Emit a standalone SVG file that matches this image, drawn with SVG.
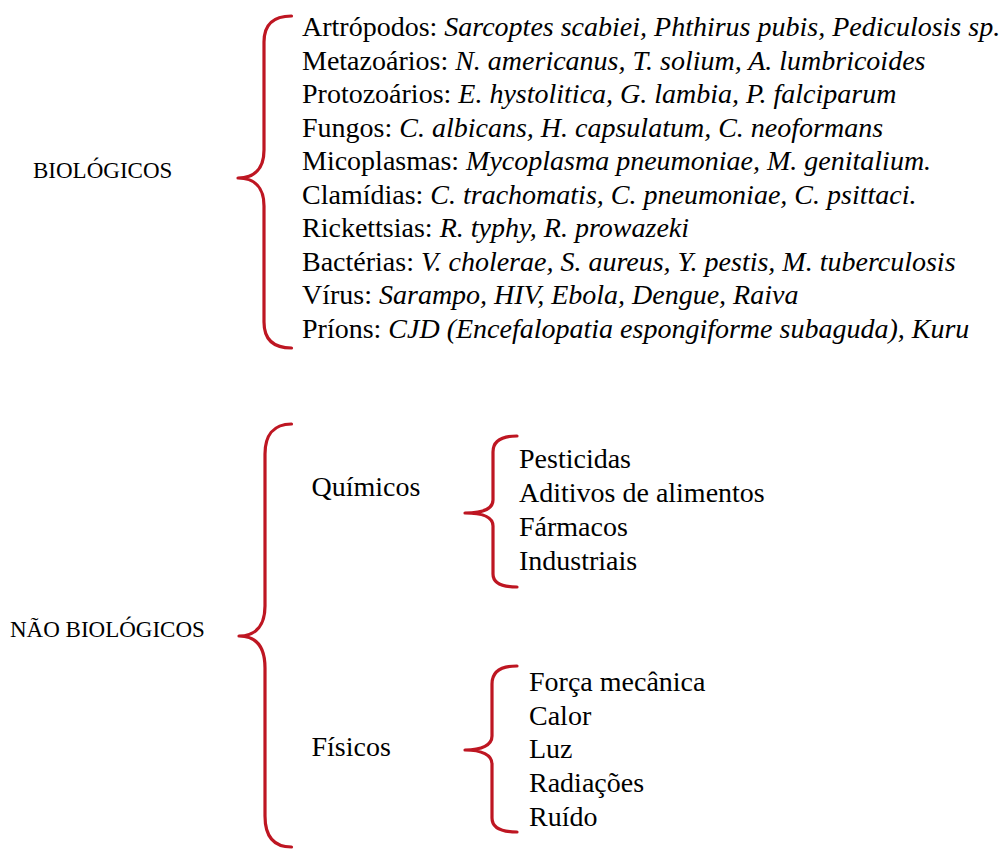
<svg xmlns="http://www.w3.org/2000/svg" width="1003" height="849" viewBox="0 0 1003 849" font-family="'Liberation Serif', serif">
  <style>
    .brace { fill: none; stroke: #be1622; stroke-width: 3.2; stroke-linecap: round; stroke-linejoin: round; }
    .cat { font-family: 'Liberation Serif', serif; font-size: 23px; fill: #000; }
    .item { font-family: 'Liberation Serif', serif; font-size: 28px; fill: #000; }
    .it { font-style: italic; }
  </style>
  <rect width="1003" height="849" fill="#fff"/>

  <!-- curly braces joining each group to its items -->
  <g id="connectors">
    <path class="brace" d="M291.5,16 C272,16 264,26 264,42 L264,150 C264,168 255,178 238,178 C255,178 264,188 264,206 L264,322 C264,338 272,348 291.5,348"/>
    <path class="brace" d="M291.5,424 C273,424 265,436 265,454 L265,606 C265,624 257,636 239,636 C257,636 265,648 265,668 L265,816 C265,836 273,847 291.5,847"/>
    <path class="brace" d="M517,436 C500,436 493,442 493,452 L493,500 C493,509 482,513 465,513 C482,513 493,517 493,526 L493,574 C493,582 500,587 517,587"/>
    <path class="brace" d="M517,666 C500,666 492,672 492,684 L492,736 C492,745 482,750 465,750 C482,750 492,755 492,764 L492,818 C492,827 500,832 517,832"/>
  </g>

  <g id="biologicos">
    <text class="cat" x="33" y="177.5">BIOLÓGICOS</text>
  </g>

  <g id="biologicos-itens">
    <text class="item" x="302" y="36">Artrópodos: <tspan class="it">Sarcoptes scabiei, Phthirus pubis, Pediculosis sp.</tspan></text>
    <text class="item" x="302" y="69.5">Metazoários: <tspan class="it">N. americanus, T. solium, A. lumbricoides</tspan></text>
    <text class="item" x="302" y="103">Protozoários: <tspan class="it">E. hystolitica, G. lambia, P. falciparum</tspan></text>
    <text class="item" x="302" y="136.5">Fungos: <tspan class="it">C. albicans, H. capsulatum, C. neoformans</tspan></text>
    <text class="item" x="302" y="170">Micoplasmas: <tspan class="it">Mycoplasma pneumoniae, M. genitalium.</tspan></text>
    <text class="item" x="302" y="203.5">Clamídias: <tspan class="it">C. trachomatis, C. pneumoniae, C. psittaci.</tspan></text>
    <text class="item" x="302" y="237">Rickettsias: <tspan class="it">R. typhy, R. prowazeki</tspan></text>
    <text class="item" x="302" y="270.5">Bactérias: <tspan class="it">V. cholerae, S. aureus, Y. pestis, M. tuberculosis</tspan></text>
    <text class="item" x="302" y="304">Vírus: <tspan class="it">Sarampo, HIV, Ebola, Dengue, Raiva</tspan></text>
    <text class="item" x="302" y="337.5">Príons: <tspan class="it">CJD (Encefalopatia espongiforme subaguda), Kuru</tspan></text>
  </g>

  <g id="nao-biologicos">
    <text class="cat" x="10" y="636.5">NÃO BIOLÓGICOS</text>
  </g>

  <g id="quimicos">
    <text class="item" x="311.5" y="496">Químicos</text>
  </g>

  <g id="quimicos-itens">
    <text class="item" x="519" y="467.5">Pesticidas</text>
    <text class="item" x="519" y="501.5">Aditivos de alimentos</text>
    <text class="item" x="519" y="535.5">Fármacos</text>
    <text class="item" x="519" y="569.5">Industriais</text>
  </g>

  <g id="fisicos">
    <text class="item" x="311.5" y="755.5">Físicos</text>
  </g>

  <g id="fisicos-itens">
    <text class="item" x="529" y="691">Força mecânica</text>
    <text class="item" x="529" y="724.5">Calor</text>
    <text class="item" x="529" y="758">Luz</text>
    <text class="item" x="529" y="792">Radiações</text>
    <text class="item" x="529" y="825.5">Ruído</text>
  </g>
</svg>
